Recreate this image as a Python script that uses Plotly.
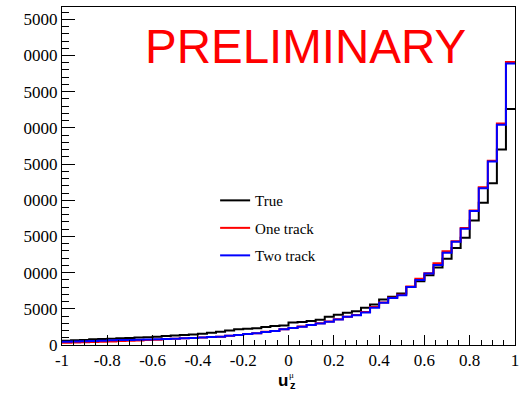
import numpy as np
import plotly.graph_objects as go

# 50 bins on [-1, 1]
bin_lo, bin_hi, n_bins = -1.0, 1.0, 50

true_counts = [590, 640, 700, 780, 820, 880, 920, 980, 1030, 1080,
               1150, 1240, 1300, 1380, 1440, 1560, 1690, 1830, 2020, 2160,
               2250, 2300, 2480, 2620, 2710, 3120, 3180, 3300, 3490, 3900,
               4170, 4450, 4650, 5140, 5600, 6290, 6650, 7120, 8030, 8810,
               9640, 10700, 11900, 13400, 14830, 17210, 19650, 22350, 27000, 32600]

one_track = [320, 350, 380, 420, 460, 500, 540, 580, 620, 680,
             740, 830, 870, 920, 960, 1020, 1100, 1150, 1290, 1380,
             1510, 1610, 1830, 1950, 2180, 2360, 2540, 2780, 3000, 3230,
             3560, 3920, 4130, 4550, 5250, 5880, 6540, 6950, 8080, 9150,
             9900, 11300, 12950, 14350, 16150, 18600, 21800, 25450, 30600, 39100]

two_track = [450, 480, 520, 560, 600, 640, 680, 700, 730, 760,
             790, 830, 870, 920, 960, 1020, 1100, 1150, 1290, 1380,
             1510, 1610, 1790, 1930, 2160, 2340, 2520, 2750, 2980, 3210,
             3530, 3900, 4100, 4500, 5140, 5830, 6510, 6890, 8030, 8990,
             9870, 11060, 12750, 14280, 16070, 18500, 21660, 25340, 30430, 38900]

series = [("True", true_counts, "#000000"),
          ("One track", one_track, "#ff0000"),
          ("Two track", two_track, "#0000ff")]

y_tickvals = [0, 5000, 10000, 15000, 20000, 25000, 30000, 35000, 40000, 45000]
y_ticktext = ["0", "5000", "0000", "5000", "0000", "5000", "0000", "5000", "0000", "5000"]
x_tickvals = [-1, -0.8, -0.6, -0.4, -0.2, 0, 0.2, 0.4, 0.6, 0.8, 1]
x_ticktext = ["-1", "-0.8", "-0.6", "-0.4", "-0.2", "0", "0.2", "0.4", "0.6", "0.8", "1"]

edges = np.linspace(bin_lo, bin_hi, n_bins + 1)

fig = go.Figure()
for i, (name, vals, col) in enumerate(series):
    yy = list(vals) + [vals[-1]]
    fig.add_trace(go.Scatter(x=edges, y=yy, mode="lines", line_shape="hv",
                             line=dict(color=col, width=2), name=name,
                             legendgroup=name))

serif = "Liberation Serif"
fig.update_layout(
    width=525, height=394,
    margin=dict(l=62, r=8, t=6, b=49),
    paper_bgcolor="white", plot_bgcolor="white",
    showlegend=True,
    legend=dict(x=0.338, y=0.476, xanchor="left", yanchor="top",
                bgcolor="rgba(0,0,0,0)", font=dict(family=serif, size=15, color="black"),
                tracegroupgap=5, itemwidth=30),
    xaxis=dict(range=[bin_lo, bin_hi], tickvals=x_tickvals, ticktext=x_ticktext,
               ticks="inside", ticklen=10, tickcolor="black", tickwidth=1,
               minor=dict(dtick=0.05, ticks="inside", ticklen=5, tickcolor="black"),
               showline=True, linecolor="black", linewidth=1, mirror=True,
               showgrid=False, zeroline=False,
               tickfont=dict(family=serif, size=17, color="black")),
    yaxis=dict(range=[0, 46700], tickvals=y_tickvals, ticktext=y_ticktext,
               ticks="inside", ticklen=13, tickcolor="black", tickwidth=1,
               minor=dict(dtick=1000, ticks="inside", ticklen=7, tickcolor="black"),
               showline=True, linecolor="black", linewidth=1, mirror=True,
               showgrid=False, zeroline=False,
               tickfont=dict(family=serif, size=17, color="black")),
)

fig.add_annotation(text="PRELIMINARY", xref="paper", yref="paper", x=0.537, y=0.882,
                   xanchor="center", yanchor="middle", showarrow=False,
                   font=dict(family="Liberation Sans", size=47.5, color="#ff0000"))
fig.add_annotation(text="<b>u</b>", xref="paper", yref="paper", x=0.503, y=-0.104,
                   xanchor="right", yanchor="middle", showarrow=False,
                   font=dict(family="Liberation Sans", size=17, color="black"))
fig.add_annotation(text="<b>z</b>", xref="paper", yref="paper", x=0.499, y=-0.118,
                   xanchor="left", yanchor="middle", showarrow=False,
                   font=dict(family="Liberation Sans", size=11, color="black"))
fig.add_annotation(text="μ", xref="paper", yref="paper", x=0.499, y=-0.089,
                   xanchor="left", yanchor="middle", showarrow=False, borderpad=0,
                   font=dict(family="Liberation Serif", size=9, color="black"))

fig.write_html("out.html")
